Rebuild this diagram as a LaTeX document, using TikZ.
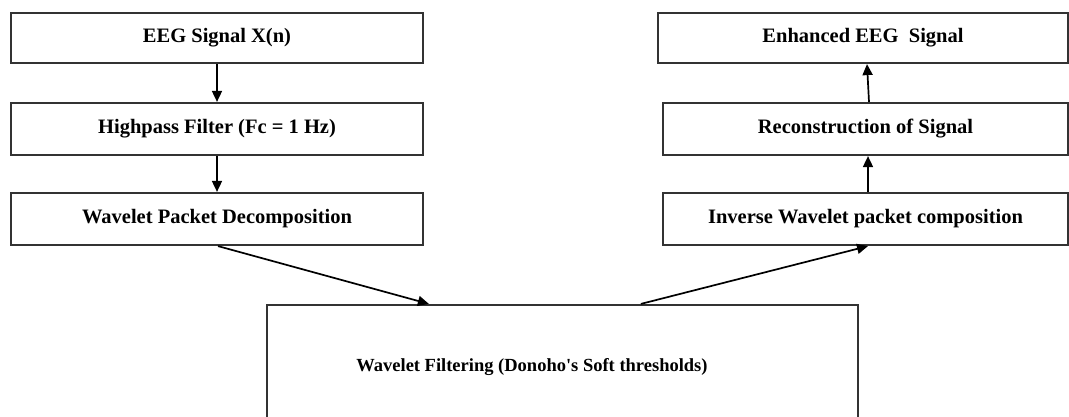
\documentclass[tikz,border=0pt]{standalone}
\usepackage{fontspec}
\setmainfont{Liberation Serif}
\usetikzlibrary{arrows.meta,calc}
\begin{document}
\begin{tikzpicture}[x=1pt,y=-1pt,
  txt/.style={font=\fontsize{20.5}{24}\selectfont\bfseries},
  stepbox/.style={txt,draw=black!80,line width=2.2pt,rectangle,inner sep=0pt},
  arr/.style={draw=black,line width=1.7pt,-{Triangle[length=11pt,width=10pt]}}]
\clip (0,0) rectangle (1069,416);
\fill[white] (0,0) rectangle (1069,416);
% left column
\node[stepbox,minimum width=412pt,minimum height=50pt] (eeg) at (217,38) {EEG Signal X(n)};
\node[stepbox,minimum width=412pt,minimum height=52pt] (hp) at (217,129) {Highpass Filter (Fc = 1 Hz)};
\node[stepbox,minimum width=412pt,minimum height=52pt] (wpd) at (217,219) {Wavelet Packet Decomposition};
% right column
\node[stepbox,minimum width=410pt,minimum height=50pt] (enh) at (863,38) {Enhanced EEG\ \ Signal};
\node[stepbox,minimum width=405pt,minimum height=52pt] (rec) at (865.5,129) {Reconstruction of Signal};
\node[stepbox,minimum width=405pt,minimum height=52pt] (iwp) at (865.5,219) {Inverse Wavelet packet composition};
% bottom box
\node[stepbox,minimum width=591pt,minimum height=140pt] (filt) at (562.5,375) {};
\node[font=\fontsize{18.5}{22}\selectfont\bfseries] (filttxt) at (532,367) {Wavelet Filtering (Donoho\textquotesingle s Soft thresholds)};
\coordinate (fin) at ($(filt.north west)+(163,0)$);
\coordinate (fout) at ($(filt.north west)+(375,0)$);
% connectors
\draw[arr] (eeg.south) -- (hp.north);
\draw[arr] (hp.south) -- (wpd.north);
\draw[arr] ($(wpd.south)+(1,0)$) -- (fin);
\draw[arr] (fout) -- ($(iwp.south)+(2.5,0)$);
\draw[arr] ($(iwp.north)+(2.5,0)$) -- ($(rec.south)+(2.5,0)$);
\draw[arr] ($(rec.north)+(3.5,0)$) -- ($(enh.south)+(4,0)$);
\end{tikzpicture}
\end{document}
